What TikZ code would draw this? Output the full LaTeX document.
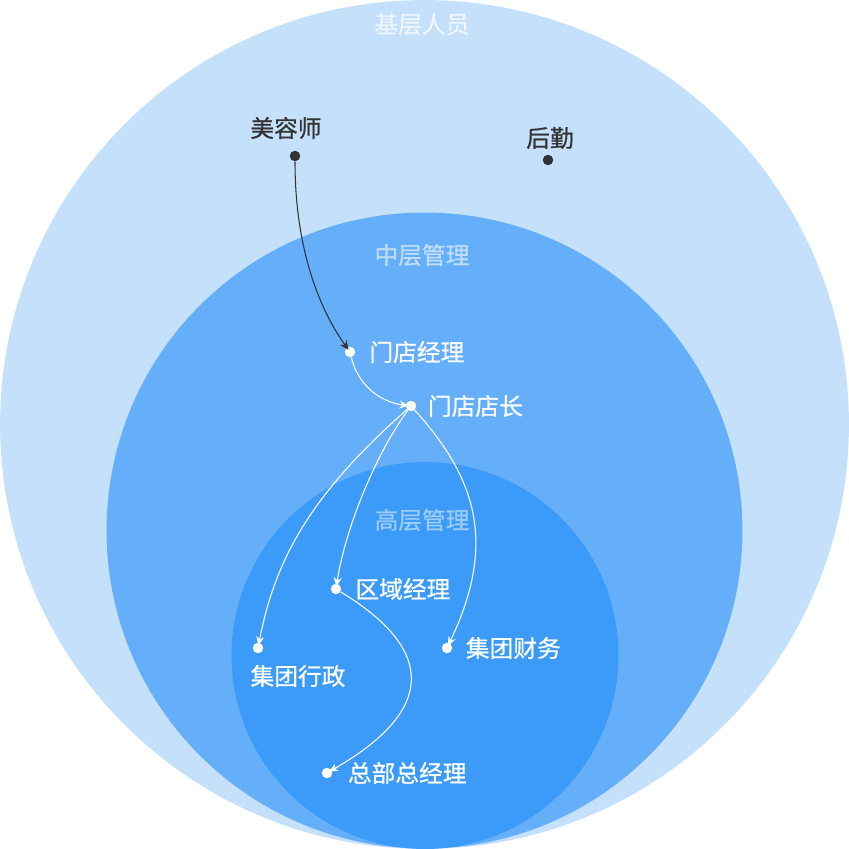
\documentclass[tikz,border=0pt]{standalone}
\usepackage{fontspec}
\newfontfamily\cjk[FakeBold=0.7]{Noto Sans CJK SC}
\usetikzlibrary{arrows.meta,positioning}
\definecolor{ringouter}{HTML}{C4E0FB}
\definecolor{ringmid}{HTML}{64AEFA}
\definecolor{ringinner}{HTML}{3C9BF9}
\definecolor{inkdark}{HTML}{333333}
\definecolor{tagouter}{HTML}{EEF6FE}
\definecolor{tagmid}{HTML}{C0DEFC}
\definecolor{taginner}{HTML}{9CCCFB}
\begin{document}
\begin{tikzpicture}[x=0.02cm, y=-0.02cm,
  dot/.style={circle, fill=white, inner sep=0pt, minimum size=2.1mm},
  darkdot/.style={dot, fill=inkdark},
  lbl/.style={font=\cjk\fontsize{13.5}{16}\selectfont, text=white, inner sep=0pt},
  darklbl/.style={lbl, text=inkdark},
  link/.style={draw=white, line width=0.6pt, -{Stealth[length=1.8mm,width=1.6mm]}, shorten >=-0.6mm},
  darklink/.style={link, draw=inkdark}
]
\useasboundingbox (0,0) rectangle (849,849);
\clip (0,0) rectangle (849,849);
% rings
\fill[ringouter] (424.5,424.5) circle[radius=8.49cm];
\fill[ringmid] (424.5,530.5) circle[radius=6.36cm];
\fill[ringinner] (425,655.5) circle[radius=3.87cm];
\node[lbl, text=tagouter] at (422,24) {基层人员};
\node[lbl, text=tagmid] at (422,255) {中层管理};
\node[lbl, text=taginner] at (422,520) {高层管理};
% roles
\node[darkdot] (mrs) at (295,156) {};
\node[darklbl] at (286,128) {美容师};
\node[darkdot] (hq) at (548,160) {};
\node[darklbl] at (550,138) {后勤};
\node[dot] (mdjl) at (350,352) {};
\node[lbl, right=2.7mm of mdjl] {门店经理};
\node[dot] (mddz) at (411,406) {};
\node[lbl, right=2.2mm of mddz] {门店店长};
\node[dot] (qyjl) at (336,589) {};
\node[lbl, right=2.7mm of qyjl] {区域经理};
\node[dot] (jtxz) at (258,648) {};
\node[lbl] at (298,676) {集团行政};
\node[dot] (jtcw) at (447,648) {};
\node[lbl, right=2.6mm of jtcw] {集团财务};
\node[dot] (zbzjl) at (327,773) {};
\node[lbl, right=3mm of zbzjl] {总部总经理};
% links
\draw[darklink] (mrs) .. controls (295,250) and (320,310) .. (mdjl);
\draw[link] (mdjl) .. controls (358,385) and (380,402) .. (mddz);
\draw[link] (mddz) .. controls (310,495) and (275,560) .. (jtxz);
\draw[link] (mddz) .. controls (375,455) and (345,530) .. (qyjl);
\draw[link] (mddz) .. controls (478,480) and (496,545) .. (jtcw);
\draw[link] (qyjl) .. controls (436,650) and (436,710) .. (zbzjl);
\end{tikzpicture}
\end{document}
